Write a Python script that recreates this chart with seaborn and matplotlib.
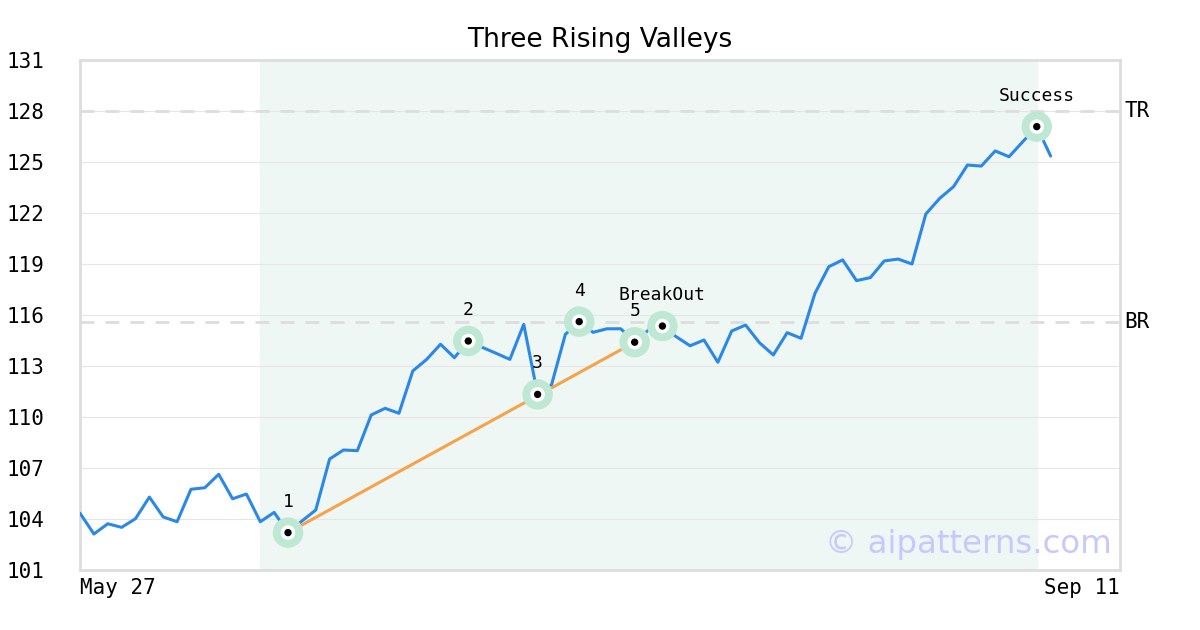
import numpy as np
import pandas as pd
import seaborn as sns
import matplotlib.pyplot as plt

# closing prices, one per trading session from May 27
close = [104.34, 103.12, 103.72, 103.51, 104.02, 105.29, 104.12, 103.84, 105.75, 105.84,
         106.63, 105.19, 105.47, 103.84, 104.39, 103.2, 103.88, 104.53, 107.53, 108.06,
         108.02, 110.12, 110.51, 110.22, 112.71, 113.39, 114.28, 113.49, 114.47, 114.1,
         113.75, 113.39, 115.45, 111.33, 111.88, 114.86, 115.61, 114.98, 115.19, 115.19,
         114.4, 115.12, 115.35, 114.72, 114.19, 114.53, 113.22, 115.06, 115.41, 114.37,
         113.65, 114.96, 114.63, 117.27, 118.84, 119.24, 118.02, 118.2, 119.18, 119.29,
         119.0, 121.94, 122.86, 123.55, 124.82, 124.76, 125.65, 125.31, 126.2, 127.08,
         125.35]
x_labels = ["May 27", "Sep 11"]
x_end = 75

pivot_idx = [15, 28, 33, 36, 40, 42, 69]
pivot_labels = ["1", "2", "3", "4", "5", "BreakOut", "Success"]
trend_idx = [15, 40]
shade_range = [13, 69]

top_resist = 128
breakout_level = 115.6
y_ticks = list(range(101, 132, 3))

df = pd.DataFrame({"day": np.arange(len(close)), "close": close})
piv = df.loc[pivot_idx].assign(label=pivot_labels)
trend = df.loc[trend_idx]

sns.set_style("white")
plt.rcParams["font.family"] = ["DejaVu Sans"]
plt.rcParams["text.color"] = "black"
plt.rcParams["xtick.color"] = "black"
plt.rcParams["ytick.color"] = "black"
mono = "DejaVu Sans Mono"

fig = plt.figure(figsize=(12, 6.3), dpi=100)
ax = fig.add_axes([0.0667, 0.0952, 0.8666, 0.8096])

ax.axvspan(shade_range[0], shade_range[1], color="#eef7f3", zorder=0)
for yt in y_ticks:
    ax.axhline(yt, color="#e6e6e6", lw=0.8, zorder=0.5)
ax.axhline(top_resist, color="#dddddd", lw=2, ls=(0, (5, 4)), zorder=1)
ax.axhline(breakout_level, color="#dddddd", lw=2, ls=(0, (5, 4)), zorder=1)

sns.lineplot(data=df, x="day", y="close", color="#2b87e8", lw=2.2, ax=ax, zorder=3)
sns.lineplot(data=trend, x="day", y="close", color="#f7a24b", lw=2.2, ax=ax, zorder=3.5)

sns.scatterplot(data=piv, x="day", y="close", s=480, color="#bfe8d4", edgecolor="none", ax=ax, zorder=4)
sns.scatterplot(data=piv, x="day", y="close", s=110, color="white", edgecolor="none", ax=ax, zorder=5)
sns.scatterplot(data=piv, x="day", y="close", s=28, color="black", edgecolor="none", ax=ax, zorder=6)

for _, r in piv.iterrows():
    ax.annotate(r["label"], (r["day"], r["close"]), xytext=(0, 22), textcoords="offset pixels",
                ha="center", va="bottom", fontsize=13, family=mono)

ax.text(1.004, (top_resist - 101) / 30, "TR", transform=ax.transAxes, va="center",
        ha="left", fontsize=15, family=mono)
ax.text(1.004, (breakout_level - 101) / 30, "BR", transform=ax.transAxes, va="center",
        ha="left", fontsize=15, family=mono)

ax.text(0.992, 0.02, "© aipatterns.com", transform=ax.transAxes, ha="right", va="bottom",
        fontsize=23.3, color="#c8c8ff", zorder=7)

ax.set_xlim(0, x_end)
ax.set_ylim(101, 131)
ax.set_yticks(y_ticks)
ax.set_yticklabels([str(v) for v in y_ticks], family=mono, fontsize=15)
ax.set_xticks([0, x_end])
xt = ax.set_xticklabels(x_labels, family=mono, fontsize=15)
xt[0].set_ha("left")
xt[1].set_ha("right")
ax.tick_params(axis="both", length=0)
ax.tick_params(axis="y", pad=53)
for lab in ax.get_yticklabels():
    lab.set_ha("left")
ax.tick_params(axis="x", pad=6)
ax.set_xlabel("")
ax.set_ylabel("")
for s in ax.spines.values():
    s.set_color("#dddddd")
    s.set_linewidth(2)
ax.set_title("Three Rising Valleys", fontsize=19, pad=9)

fig.savefig("out.png", dpi=100)
